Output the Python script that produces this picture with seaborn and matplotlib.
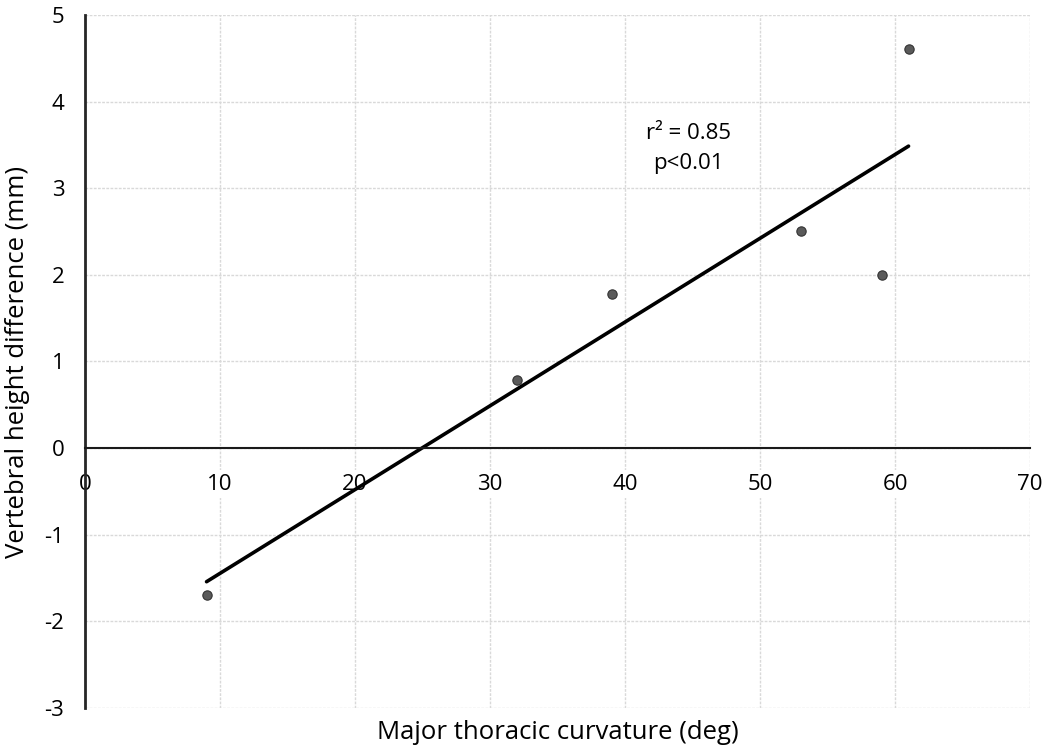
import numpy as np
import pandas as pd
import matplotlib
matplotlib.use("Agg")
import matplotlib.pyplot as plt
import seaborn as sns

# Data
curvature = [9, 32, 39, 53, 59, 61]
height_diff = [-1.7, 0.79, 1.78, 2.51, 2.0, 4.61]
x_ticks = [0, 10, 20, 30, 40, 50, 60, 70]
y_ticks = [-3, -2, -1, 0, 1, 2, 3, 4, 5]
annotation = "r² = 0.85\np<0.01"

df = pd.DataFrame({"curv": curvature, "diff": height_diff})

sns.set_theme(style="white")
plt.rcParams["font.family"] = ["Open Sans", "DejaVu Sans"]
plt.rcParams["axes.unicode_minus"] = False

fig = plt.figure(figsize=(10.5, 7.51), dpi=100)
ax = fig.add_axes([0.081, 0.0573, 0.9, 0.9227])

sns.regplot(data=df, x="curv", y="diff", scatter=False, ci=None, truncate=True,
            color="black", line_kws={"linewidth": 2.6, "zorder": 2}, ax=ax)
sns.scatterplot(data=df, x="curv", y="diff", s=45, color="#5a5a5a",
                edgecolor="#333333", linewidth=0.8, zorder=3, ax=ax)

ax.set_xlim(0, 70)
ax.set_ylim(-3, 5)
ax.set_xticks(x_ticks)
ax.set_yticks(y_ticks)
ax.grid(True, color="#d9d9d9", linewidth=1.0, linestyle=(0, (2, 1)))
ax.set_axisbelow(True)

for s in ["top", "right"]:
    ax.spines[s].set_visible(False)
ax.spines["left"].set_color("#262626")
ax.spines["left"].set_linewidth(2.0)
ax.spines["bottom"].set_position(("data", 0))
ax.spines["bottom"].set_color("#1a1a1a")
ax.spines["bottom"].set_linewidth(1.5)

ax.tick_params(axis="both", length=0, labelsize=16, colors="#000000")
ax.tick_params(axis="x", pad=18.5)
ax.tick_params(axis="y", pad=27)
for lbl in ax.get_xticklabels():
    lbl.set_bbox(dict(facecolor="white", edgecolor="none", pad=2.5))

# the "0" label of the value axis sits closer to the axis line in the original
for tick in ax.yaxis.get_major_ticks():
    if abs(tick.get_loc()) < 1e-9:
        tick.set_pad(15)

ax.set_xlabel("Major thoracic curvature (deg)", fontsize=18.5, color="#000000")
ax.set_ylabel("Vertebral height difference (mm)", fontsize=18.5, color="#000000")
ax.xaxis.set_label_coords(0.5, -0.018)
ax.yaxis.set_label_coords(-0.058, 0.5)

ax.text(44.7, 3.46, annotation, ha="center", va="center", fontsize=16,
        color="#000000", linespacing=1.6)

fig.savefig("out.png", dpi=100, facecolor="white")
